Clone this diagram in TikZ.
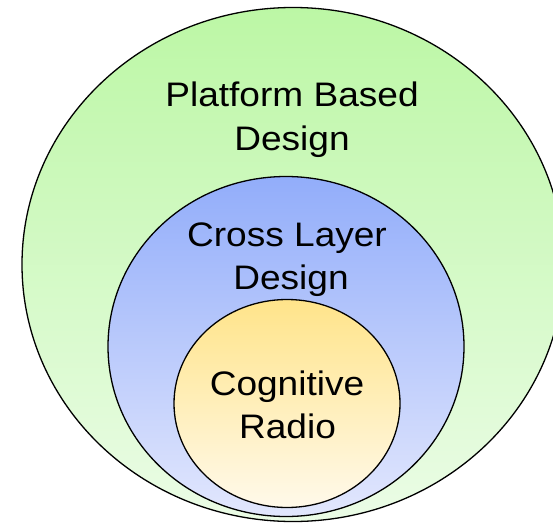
\documentclass[tikz,border=0pt]{standalone}
\usepackage{fontspec}
\setmainfont{Liberation Sans}[FakeStretch=1.09]
\definecolor{gtop}{HTML}{BCF7A5}
\definecolor{gbot}{HTML}{EBFCE6}
\definecolor{btop}{HTML}{92ADFA}
\definecolor{bbot}{HTML}{E2E7FD}
\definecolor{ytop}{HTML}{FFE48A}
\definecolor{ybot}{HTML}{FFF9EA}
\tikzset{
  ring/.style={draw=black, line width=1.3pt},
  lbl/.style={anchor=base, inner sep=0pt, font=\fontsize{34}{40}\selectfont}
}
\begin{document}
\begin{tikzpicture}[x=1pt,y=1pt]
\useasboundingbox (0,0) rectangle (553,523);
\clip (0,0) rectangle (553,523);
\shade[ring, top color=gtop, bottom color=gbot] (293,258.5) ellipse [x radius=271, y radius=257];
\shade[ring, top color=btop, bottom color=bbot] (286,176.5) ellipse [x radius=178, y radius=170];
\shade[ring, top color=ytop, bottom color=ybot] (287,119.5) ellipse [x radius=113, y radius=104];
\node[lbl] (pbd1) at (292,416) {Platform Based};
\node[lbl] (pbd2) at (292,372.3) {Design};
\node[lbl] (cld1) at (287,276.3) {Cross Layer};
\node[lbl] (cld2) at (291,234) {Design};
\node[lbl] (cr1) at (287,128) {Cognitive};
\node[lbl] (cr2) at (287.5,85) {Radio};
\end{tikzpicture}
\end{document}
